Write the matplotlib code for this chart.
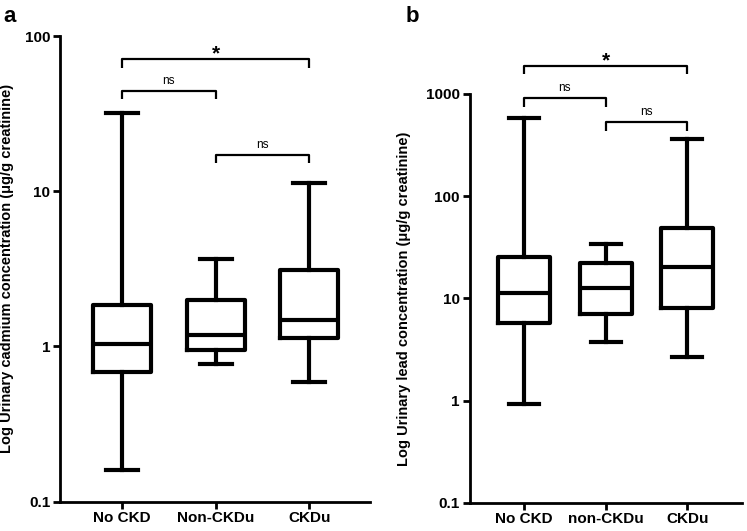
import numpy as np
import matplotlib
matplotlib.use("Agg")
import matplotlib.pyplot as plt

plt.rcParams['font.family'] = ['Liberation Sans', 'DejaVu Sans']

# --- Data ---
cd_groups = ["No CKD", "Non-CKDu", "CKDu"]
cd_whislo = [0.16, 0.77, 0.59]
cd_q1 = [0.68, 0.95, 1.13]
cd_med = [1.04, 1.18, 1.49]
cd_q3 = [1.86, 1.98, 3.12]
cd_whishi = [31.9, 3.66, 11.3]

pb_groups = ["No CKD", "non-CKDu", "CKDu"]
pb_whislo = [0.93, 3.76, 2.64]
pb_q1 = [5.7, 7.0, 8.0]
pb_med = [11.2, 12.5, 20.4]
pb_q3 = [25.2, 22.0, 49.2]
pb_whishi = [578, 33.8, 360]

# comparisons: (group i, group j, bracket level, drop level, label)
cd_brackets = [(1, 3, 71, 62, "*"), (1, 2, 44, 39, "ns"), (2, 3, 17.1, 15.1, "ns")]
pb_brackets = [(1, 3, 1890, 1570, "*"), (1, 2, 920, 746, "ns"), (2, 3, 528, 434, "ns")]


def make_stats(lo, q1, med, q3, hi):
    return [dict(whislo=a, q1=b, med=c, q3=d, whishi=e, fliers=[])
            for a, b, c, d, e in zip(lo, q1, med, q3, hi)]


def draw_panel(ax, stats, labels, ylims, xlims, width, capw, ylabel, labelx,
               brackets, yticks, ticklabels):
    lw = 3.0
    ax.bxp(stats, positions=[1, 2, 3], widths=width, showfliers=False,
           capwidths=capw,
           boxprops=dict(color='black', linewidth=lw),
           medianprops=dict(color='black', linewidth=lw),
           whiskerprops=dict(color='black', linewidth=lw),
           capprops=dict(color='black', linewidth=lw))
    ax.set_yscale('log')
    ax.set_ylim(*ylims)
    ax.set_xlim(*xlims)
    ax.set_yticks(yticks)
    ax.set_yticklabels(ticklabels, fontweight='bold', fontsize=11)
    ax.minorticks_off()
    ax.set_xticks([1, 2, 3])
    ax.set_xticklabels(labels, fontweight='bold', fontsize=11)
    ax.set_ylabel(ylabel, fontweight='bold', fontsize=10.5)
    ax.yaxis.set_label_coords(labelx, 0.5)
    for s in ['top', 'right']:
        ax.spines[s].set_visible(False)
    for s in ['left', 'bottom']:
        ax.spines[s].set_linewidth(2.0)
    ax.tick_params(width=2.0, length=5, pad=2)
    for i, j, top, drop, txt in brackets:
        ax.plot([i, i, j, j], [drop, top, top, drop], color='black', lw=1.6,
                clip_on=False, solid_capstyle='butt')
        if txt == "*":
            ax.annotate(txt, xy=((i + j) / 2, top), xytext=(0, -3),
                        textcoords='offset points', ha='center', va='bottom',
                        fontsize=15, fontweight='bold', annotation_clip=False)
        else:
            ax.annotate(txt, xy=((i + j) / 2, top), xytext=(0, 3),
                        textcoords='offset points', ha='center', va='bottom',
                        fontsize=8.5, annotation_clip=False)


fig = plt.figure(figsize=(7.47, 5.31), dpi=100)
ax1 = fig.add_axes([0.0803, 0.0552, 0.415, 0.877])
ax2 = fig.add_axes([0.6288, 0.0533, 0.3645, 0.7697])

draw_panel(ax1, make_stats(cd_whislo, cd_q1, cd_med, cd_q3, cd_whishi), cd_groups,
           (0.1, 100), (0.337, 3.65), 0.62, 0.34,
           "Log Urinary cadmium concentration (\u03bcg/g creatinine)", -0.148,
           cd_brackets, [0.1, 1, 10, 100], ["0.1", "1", "10", "100"])
draw_panel(ax2, make_stats(pb_whislo, pb_q1, pb_med, pb_q3, pb_whishi), pb_groups,
           (0.1, 1000), (0.335, 3.67), 0.64, 0.37,
           "Log Urinary lead concentration (\u03bcg/g creatinine)", -0.215,
           pb_brackets, [0.1, 1, 10, 100, 1000], ["0.1", "1", "10", "100", "1000"])

fig.text(0.004, 0.988, "a", fontsize=16, fontweight='bold', va='top')
fig.text(0.543, 0.988, "b", fontsize=16, fontweight='bold', va='top')

fig.savefig("out.png", dpi=100)
